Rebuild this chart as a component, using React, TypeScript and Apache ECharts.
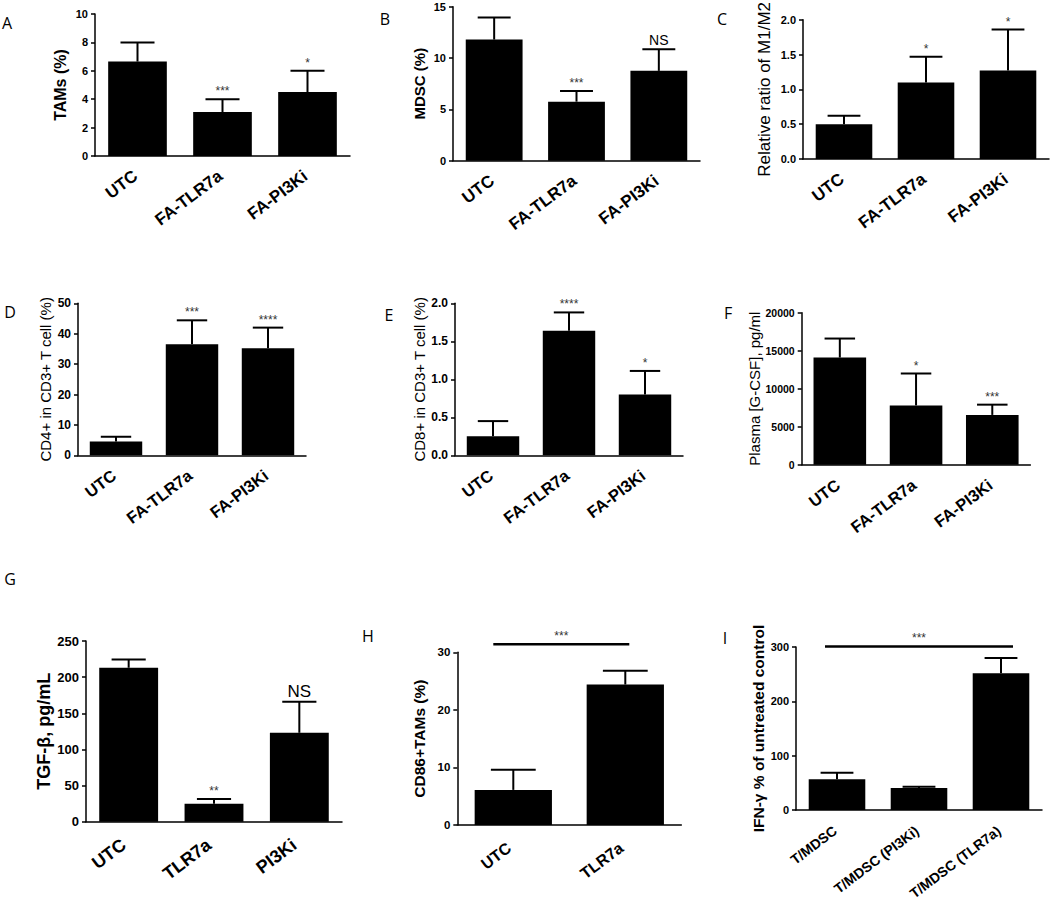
import React, { useEffect, useRef } from "react";
import * as echarts from "echarts";

// ---- data ----
const catsA = ["UTC", "FA-TLR7a", "FA-PI3Ki"];
const meanA = [6.65, 3.1, 4.5];
const errA = [1.35, 0.9, 1.5];
const sigA = ["", "***", "*"];

const catsB = ["UTC", "FA-TLR7a", "FA-PI3Ki"];
const meanB = [11.8, 5.75, 8.75];
const errB = [2.15, 1.05, 2.1];
const sigB = ["", "***", "NS"];

const catsC = ["UTC", "FA-TLR7a", "FA-PI3Ki"];
const meanC = [0.5, 1.1, 1.27];
const errC = [0.12, 0.37, 0.59];
const sigC = ["", "*", "*"];

const catsD = ["UTC", "FA-TLR7a", "FA-PI3Ki"];
const meanD = [4.5, 36.5, 35.2];
const errD = [1.6, 7.9, 6.8];
const sigD = ["", "***", "****"];

const catsE = ["UTC", "FA-TLR7a", "FA-PI3Ki"];
const meanE = [0.25, 1.64, 0.8];
const errE = [0.2, 0.24, 0.31];
const sigE = ["", "****", "*"];

const catsF = ["UTC", "FA-TLR7a", "FA-PI3Ki"];
const meanF = [14100, 7800, 6550];
const errF = [2500, 4200, 1350];
const sigF = ["", "*", "***"];

const catsG = ["UTC", "TLR7a", "PI3Ki"];
const meanG = [213, 25, 123];
const errG = [11.5, 6.3, 43];
const sigG = ["", "**", "NS"];

const catsH = ["UTC", "TLR7a"];
const meanH = [6.1, 24.4];
const errH = [3.5, 2.4];
const sigH = ["", ""];
const sigLineH = [0, 1, 31.4];

const catsI = ["T/MDSC", "T/MDSC (PI3Ki)", "T/MDSC (TLR7a)"];
const meanI = [56.5, 40.5, 251.6];
const errI = [12.2, 2.4, 28.2];
const sigI = ["", "", ""];
const sigLineI = [0, 2, 301];

const yMaxes = [10, 15, 2, 50, 2, 20000, 250, 30, 300];
const yIntervals = [2, 5, 0.5, 10, 0.5, 5000, 50, 10, 100];

const FONT = "'Liberation Sans', Arial, Helvetica, sans-serif";
const LABEL_ANGLE = (37 * Math.PI) / 180;

type Panel = {
  letter: string;
  lx: number;
  ly: number;
  cats: string[];
  mean: number[];
  err: number[];
  sig: string[];
  name: string;
  nameSize: number;
  nameBold: boolean;
  nameGap: number;
  tick: number;
  xSize: number;
  xOff: [number, number];
  dec: number;
  g: [number, number, number, number];
  sigLine?: number[];
  ext?: [number, number];
};

const panels: Panel[] = [
  { letter: "A", lx: 7, ly: 23, cats: catsA, mean: meanA, err: errA, sig: sigA, name: "TAMs (%)", nameSize: 16, nameBold: true, nameGap: 27, tick: 11, xSize: 17, xOff: [-2, 18], dec: 0, g: [95, 14, 255, 142] },
  { letter: "B", lx: 385, ly: 19, cats: catsB, mean: meanB, err: errB, sig: sigB, name: "MDSC (%)", nameSize: 15, nameBold: true, nameGap: 26, tick: 11, xSize: 17, xOff: [-2, 18], dec: 0, g: [453, 6.7, 247, 154] },
  { letter: "C", lx: 722, ly: 19, cats: catsC, mean: meanC, err: errC, sig: sigC, name: "Relative ratio of M1/M2", nameSize: 17, nameBold: false, nameGap: 30, tick: 11, xSize: 17, xOff: [-2, 18], dec: 1, g: [803, 10.7, 246, 148.3] },
  { letter: "D", lx: 10, ly: 312, cats: catsD, mean: meanD, err: errD, sig: sigD, name: "CD4+ in CD3+ T cell (%)", nameSize: 15, nameBold: false, nameGap: 25, tick: 12, xSize: 16.5, xOff: [-2, 18], dec: 0, g: [78, 303.3, 228, 152] },
  { letter: "E", lx: 389, ly: 315, cats: catsE, mean: meanE, err: errE, sig: sigE, name: "CD8+ in CD3+ T cell (%)", nameSize: 15, nameBold: false, nameGap: 25, tick: 12, xSize: 16.5, xOff: [-2, 18], dec: 1, g: [455, 303.3, 228, 152] },
  { letter: "F", lx: 728, ly: 313, cats: catsF, mean: meanF, err: errF, sig: sigF, name: "Plasma [G-CSF], pg/ml", nameSize: 15, nameBold: false, nameGap: 40, tick: 10.5, xSize: 16.5, xOff: [-2, 18], dec: 0, g: [801.7, 312.7, 228.7, 152] },
  { letter: "G", lx: 10, ly: 579, cats: catsG, mean: meanG, err: errG, sig: sigG, name: "TGF-β, pg/mL", nameSize: 18, nameBold: true, nameGap: 29, tick: 13, xSize: 18, xOff: [-5, 21], dec: 0, g: [86, 641, 256, 180.7] },
  { letter: "H", lx: 368, ly: 636, cats: catsH, mean: meanH, err: errH, sig: sigH, name: "CD86+TAMs (%)", nameSize: 15.5, nameBold: true, nameGap: 30, tick: 11.5, xSize: 16, xOff: [-4, 21], dec: 0, g: [457.3, 652.3, 224, 172.7], sigLine: sigLineH, ext: [20, 4] },
  { letter: "I", lx: 725, ly: 638, cats: catsI, mean: meanI, err: errI, sig: sigI, name: "IFN-γ % of untreated control", nameSize: 15.5, nameBold: true, nameGap: 24, tick: 11, xSize: 14, xOff: [-2, 19], dec: 0, g: [796, 647, 246, 163], sigLine: sigLineI, ext: [12, 12] },
];

function buildOption() {
  const grid: any[] = [];
  const xAxis: any[] = [];
  const yAxis: any[] = [];
  const series: any[] = [];
  const graphic: any[] = [];
  const axisLineStyle = { color: "#000", width: 1.5 };

  panels.forEach((p, i) => {
    grid.push({ left: p.g[0], top: p.g[1], width: p.g[2], height: p.g[3], containLabel: false });
    xAxis.push({
      type: "category",
      gridIndex: i,
      data: p.cats,
      axisLine: { lineStyle: axisLineStyle },
      axisTick: { alignWithLabel: true, length: 5, lineStyle: axisLineStyle },
      axisLabel: { show: false },
    });
    yAxis.push({
      type: "value",
      gridIndex: i,
      min: 0,
      max: yMaxes[i],
      interval: yIntervals[i],
      splitLine: { show: false },
      axisLine: { show: true, lineStyle: axisLineStyle },
      axisTick: { show: true, length: 4, lineStyle: axisLineStyle },
      axisLabel: {
        color: "#000",
        fontWeight: "bold",
        fontSize: p.tick,
        fontFamily: FONT,
        margin: 7,
        formatter: (v: number) => v.toFixed(p.dec),
      },
      name: p.name,
      nameLocation: "middle",
      nameRotate: 90,
      nameGap: p.nameGap,
      nameTextStyle: { color: "#000", fontSize: p.nameSize, fontWeight: p.nameBold ? "bold" : "normal", fontFamily: FONT },
    });
    series.push({
      type: "bar",
      xAxisIndex: i,
      yAxisIndex: i,
      data: p.mean,
      barCategoryGap: "31%",
      itemStyle: { color: "#000" },
      silent: true,
    });
    // category labels, rotated
    series.push({
      type: "custom",
      xAxisIndex: i,
      yAxisIndex: i,
      clip: false,
      silent: true,
      data: p.cats.map((_, j) => [j, 0]),
      encode: { x: 0, y: 1 },
      renderItem: (params: any, api: any) => {
        const pt = api.coord([api.value(0), 0]);
        return {
          type: "text",
          x: pt[0] + p.xOff[0],
          y: pt[1] + p.xOff[1],
          rotation: LABEL_ANGLE,
          style: {
            text: p.cats[params.dataIndex],
            fill: "#000",
            fontSize: p.xSize,
            fontWeight: "bold",
            fontFamily: FONT,
            align: "right",
            verticalAlign: "middle",
          },
        };
      },
    });
    // error bars + significance marks
    series.push({
      type: "custom",
      xAxisIndex: i,
      yAxisIndex: i,
      clip: false,
      z: 3,
      silent: true,
      data: p.mean.map((m, j) => [j, m, m + p.err[j]]),
      encode: { x: 0, y: [1, 2] },
      renderItem: (params: any, api: any) => {
        const c = api.value(0);
        const base = api.coord([c, api.value(1)]);
        const top = api.coord([c, api.value(2)]);
        const bw = api.size([1, 0])[0];
        const half = bw * 0.69 * 0.29;
        const label = p.sig[params.dataIndex];
        const children: any[] = [
          { type: "line", shape: { x1: base[0], y1: base[1], x2: top[0], y2: top[1] }, style: { stroke: "#000", lineWidth: 2 } },
          { type: "line", shape: { x1: top[0] - half, y1: top[1], x2: top[0] + half, y2: top[1] }, style: { stroke: "#000", lineWidth: 2 } },
        ];
        if (label) {
          const ns = label === "NS";
          children.push({
            type: "text",
            x: top[0],
            y: top[1] - 2,
            style: {
              text: label,
              fill: ns ? "#000" : "#333",
              fontSize: ns ? (i === 6 ? 17 : 14) : 12,
              fontFamily: FONT,
              align: "center",
              verticalAlign: "bottom",
            },
          });
        }
        return { type: "group", children };
      },
    });
    if (p.sigLine) {
      const ext = p.ext || [0, 0];
      series.push({
        type: "custom",
        xAxisIndex: i,
        yAxisIndex: i,
        clip: false,
        silent: true,
        z: 3,
        data: [p.sigLine],
        encode: { x: [0, 1], y: 2 },
        renderItem: (params: any, api: any) => {
          const a = api.coord([api.value(0), api.value(2)]);
          const b = api.coord([api.value(1), api.value(2)]);
          const x1 = a[0] - ext[0];
          const x2 = b[0] + ext[1];
          return {
            type: "group",
            children: [
              { type: "line", shape: { x1, y1: a[1], x2, y2: a[1] }, style: { stroke: "#000", lineWidth: 2.5 } },
              {
                type: "text",
                x: (x1 + x2) / 2,
                y: a[1] - 2,
                style: { text: "***", fill: "#333", fontSize: 12, fontFamily: FONT, align: "center", verticalAlign: "bottom" },
              },
            ],
          };
        },
      });
    }
    graphic.push({
      type: "text",
      x: p.lx,
      y: p.ly,
      style: { text: p.letter, fill: "#000", fontSize: 16, fontFamily: "'Open Sans', 'Noto Sans', sans-serif", align: "center", verticalAlign: "middle" },
    });
  });

  return { animation: false, backgroundColor: "#fff", grid, xAxis, yAxis, series, graphic };
}

export default function App() {
  const ref = useRef<HTMLDivElement>(null);
  useEffect(() => {
    if (!ref.current) return;
    const chart = echarts.init(ref.current, undefined, { renderer: "svg" });
    chart.setOption(buildOption() as any);
    return () => chart.dispose();
  }, []);
  return <div ref={ref} style={{ position: "fixed", left: 0, top: 0, width: 1050, height: 914, background: "#fff" }} />;
}
